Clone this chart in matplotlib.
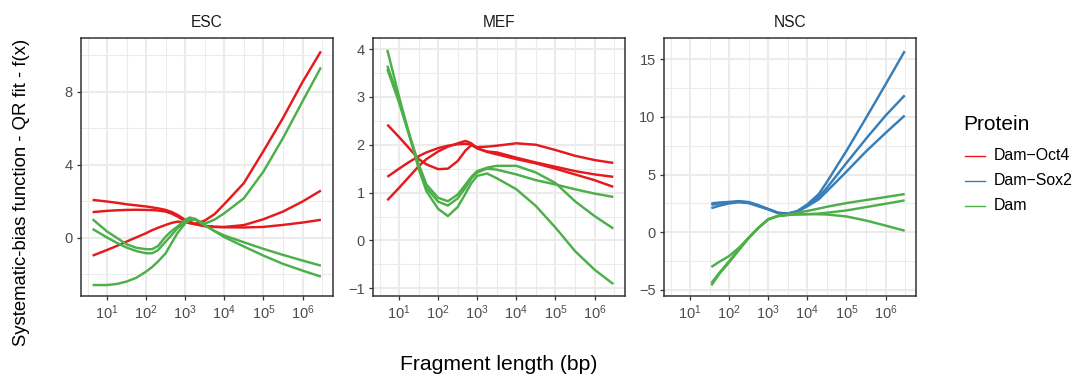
import numpy as np
import matplotlib
matplotlib.use("Agg")
import matplotlib.pyplot as plt
from matplotlib.lines import Line2D
from matplotlib.ticker import FixedLocator, NullFormatter

plt.rcParams['font.family'] = ['Liberation Sans', 'DejaVu Sans']
plt.rcParams['mathtext.fontset'] = 'custom'
plt.rcParams['mathtext.rm'] = 'Liberation Sans'
plt.rcParams['mathtext.it'] = 'Liberation Sans'

# ---------------- data (log10 fragment length, f(x)) ----------------
panels = ["ESC", "MEF", "NSC"]
proteins = ["Dam\u2212Oct4", "Dam\u2212Sox2", "Dam"]
colors = {"Dam\u2212Oct4": "#E41A1C", "Dam\u2212Sox2": "#377EB8", "Dam": "#4DAF4A"}

esc_logx = [0.63, 1.0, 1.25, 1.5, 1.75, 2.0, 2.15, 2.3, 2.5, 2.65, 2.8, 3.0, 3.12, 3.25, 3.5, 3.75, 4.0, 4.5, 5.0, 5.5, 6.0, 6.47]
esc_oct4_1 = [2.08, 1.99, 1.92, 1.84, 1.78, 1.72, 1.67, 1.62, 1.53, 1.42, 1.26, 0.99, 0.88, 0.78, 0.66, 0.61, 0.60, 0.70, 1.02, 1.44, 1.99, 2.59]
esc_oct4_2 = [1.41, 1.48, 1.51, 1.53, 1.54, 1.53, 1.52, 1.50, 1.44, 1.33, 1.17, 0.92, 0.82, 0.74, 0.64, 0.60, 0.58, 0.57, 0.60, 0.71, 0.84, 0.99]
esc_oct4_3 = [-0.97, -0.66, -0.44, -0.20, 0.03, 0.26, 0.42, 0.55, 0.71, 0.82, 0.89, 0.86, 0.80, 0.76, 0.95, 1.30, 1.85, 3.00, 4.75, 6.56, 8.53, 10.21]
esc_dam_1 = [1.02, 0.35, 0.00, -0.35, -0.54, -0.62, -0.62, -0.45, 0.07, 0.38, 0.62, 0.99, 1.12, 1.02, 0.68, 0.38, 0.13, -0.24, -0.60, -0.93, -1.24, -1.52]
esc_dam_2 = [0.49, 0.02, -0.27, -0.53, -0.72, -0.84, -0.84, -0.68, -0.20, 0.15, 0.53, 0.84, 1.05, 1.05, 0.70, 0.37, 0.04, -0.47, -0.97, -1.42, -1.79, -2.12]
esc_dam_3 = [-2.58, -2.58, -2.52, -2.39, -2.18, -1.84, -1.60, -1.30, -0.84, -0.28, 0.26, 0.80, 0.98, 1.00, 0.78, 1.00, 1.35, 2.17, 3.63, 5.46, 7.47, 9.33]

mef_logx = [0.7, 1.0, 1.2, 1.5, 1.7, 2.0, 2.25, 2.5, 2.7, 2.85, 3.0, 3.25, 3.5, 4.0, 4.5, 5.0, 5.5, 6.0, 6.48]
mef_oct4_1 = [2.42, 2.16, 1.98, 1.70, 1.59, 1.49, 1.50, 1.66, 1.88, 1.99, 1.93, 1.85, 1.80, 1.70, 1.61, 1.50, 1.38, 1.26, 1.12]
mef_oct4_2 = [1.33, 1.50, 1.61, 1.76, 1.84, 1.93, 1.98, 2.01, 2.02, 2.00, 1.95, 1.96, 1.98, 2.03, 2.00, 1.89, 1.77, 1.68, 1.62]
mef_oct4_3 = [0.84, 1.10, 1.28, 1.55, 1.70, 1.86, 1.96, 2.03, 2.08, 2.03, 1.92, 1.86, 1.84, 1.73, 1.63, 1.54, 1.45, 1.38, 1.33]
mef_dam_1 = [3.98, 3.00, 2.40, 1.50, 1.03, 0.66, 0.51, 0.70, 0.98, 1.20, 1.35, 1.40, 1.30, 1.07, 0.72, 0.27, -0.22, -0.61, -0.91]
mef_dam_2 = [3.65, 2.93, 2.38, 1.60, 1.17, 0.89, 0.82, 0.96, 1.17, 1.33, 1.45, 1.52, 1.56, 1.56, 1.42, 1.20, 0.82, 0.51, 0.25]
mef_dam_3 = [3.58, 2.88, 2.35, 1.56, 1.10, 0.81, 0.73, 0.88, 1.10, 1.30, 1.42, 1.50, 1.48, 1.38, 1.26, 1.17, 1.07, 0.98, 0.91]

nsc_logx = [1.545, 1.75, 2.0, 2.25, 2.5, 2.75, 3.0, 3.25, 3.5, 3.75, 4.0, 4.29, 4.5, 5.0, 5.5, 6.0, 6.49]
nsc_sox2_1 = [2.50, 2.58, 2.63, 2.70, 2.62, 2.35, 2.02, 1.70, 1.62, 1.85, 2.42, 3.30, 4.35, 7.05, 9.90, 12.80, 15.69]
nsc_sox2_2 = [2.38, 2.50, 2.58, 2.65, 2.58, 2.30, 2.00, 1.68, 1.60, 1.82, 2.35, 3.05, 3.85, 6.00, 8.10, 10.10, 11.86]
nsc_sox2_3 = [2.09, 2.30, 2.50, 2.60, 2.52, 2.25, 1.98, 1.66, 1.58, 1.78, 2.25, 2.85, 3.55, 5.25, 7.00, 8.60, 10.11]
nsc_dam_1 = [-3.00, -2.55, -2.06, -1.34, -0.47, 0.40, 1.13, 1.42, 1.51, 1.70, 1.85, 2.05, 2.21, 2.53, 2.79, 3.05, 3.31]
nsc_dam_2 = [-4.40, -3.50, -2.50, -1.48, -0.47, 0.40, 1.13, 1.42, 1.51, 1.55, 1.57, 1.62, 1.69, 1.89, 2.18, 2.47, 2.76]
nsc_dam_3 = [-4.60, -3.60, -2.60, -1.55, -0.50, 0.38, 1.10, 1.40, 1.50, 1.55, 1.57, 1.56, 1.54, 1.37, 1.02, 0.58, 0.14]

series = {
    "ESC": (esc_logx, [("Dam\u2212Oct4", esc_oct4_1), ("Dam\u2212Oct4", esc_oct4_2), ("Dam\u2212Oct4", esc_oct4_3),
                       ("Dam", esc_dam_1), ("Dam", esc_dam_2), ("Dam", esc_dam_3)]),
    "MEF": (mef_logx, [("Dam\u2212Oct4", mef_oct4_1), ("Dam\u2212Oct4", mef_oct4_2), ("Dam\u2212Oct4", mef_oct4_3),
                       ("Dam", mef_dam_1), ("Dam", mef_dam_2), ("Dam", mef_dam_3)]),
    "NSC": (nsc_logx, [("Dam\u2212Sox2", nsc_sox2_1), ("Dam\u2212Sox2", nsc_sox2_2), ("Dam\u2212Sox2", nsc_sox2_3),
                       ("Dam", nsc_dam_1), ("Dam", nsc_dam_2), ("Dam", nsc_dam_3)]),
}

y_major = {"ESC": [0, 4, 8], "MEF": [-1, 0, 1, 2, 3, 4], "NSC": [-5, 0, 5, 10, 15]}
y_minor = {"ESC": [-2, 2, 6, 10], "MEF": [-0.5, 0.5, 1.5, 2.5, 3.5], "NSC": [-2.5, 2.5, 7.5, 12.5]}
y_lims = {"ESC": (-3.18, 10.94), "MEF": (-1.16, 4.23), "NSC": (-5.52, 16.83)}
x_major = [1, 2, 3, 4, 5, 6]

# ---------------- figure ----------------
W, H = 1074, 374
fig = plt.figure(figsize=(W / 100, H / 100), dpi=100)
lefts = [81, 373, 664]
pw, top, bot = 252, 38, 296

grid_c = "#EBEBEB"
border_c = "#333333"
tick_c = "#4D4D4D"

for name, lp in zip(panels, lefts):
    ax = fig.add_axes([lp / W, 1 - bot / H, pw / W, (bot - top) / H])
    ax.set_xscale("log")
    xs, lines = series[name]
    xv = 10 ** np.array(xs)
    order = sorted(lines, key=lambda t: proteins.index(t[0]))
    for prot, yv in order:
        ax.plot(xv, yv, color=colors[prot], lw=1.75, solid_capstyle="butt",
                solid_joinstyle="round", zorder=3)
    ax.set_xlim(10 ** 0.333, 10 ** 6.78)
    ax.set_ylim(*y_lims[name])
    ax.xaxis.set_major_locator(FixedLocator([10 ** k for k in x_major]))
    ax.xaxis.set_minor_locator(FixedLocator([10 ** (k + 0.5) for k in range(0, 7)]))
    ax.xaxis.set_minor_formatter(NullFormatter())
    ax.set_xticklabels([r"$10^{%d}$" % k for k in x_major])
    ax.yaxis.set_major_locator(FixedLocator(y_major[name]))
    ax.yaxis.set_minor_locator(FixedLocator(y_minor[name]))
    ax.set_yticklabels([("\u2212%g" % -v) if v < 0 else "%g" % v for v in y_major[name]])
    ax.grid(which="major", color=grid_c, lw=1.5, zorder=0)
    ax.grid(which="minor", color=grid_c, lw=0.75, zorder=0)
    ax.set_axisbelow(True)
    for s in ax.spines.values():
        s.set_color(border_c)
        s.set_linewidth(1.1)
        s.set_zorder(5)
    ax.tick_params(which="major", length=3.0, width=0.9, color=border_c,
                   labelsize=10.5, labelcolor=tick_c, pad=2.5)
    ax.tick_params(which="minor", length=0)
    ax.tick_params(axis="y", pad=3.0)
    fig.text((lp + pw / 2) / W, 1 - 22.5 / H, name, ha="center", va="center",
             fontsize=11.2, color="#1A1A1A")

fig.text(499 / W, 1 - 364 / H, "Fragment length (bp)", ha="center", va="center", fontsize=15.2)
fig.text(22 / W, 1 - 192 / H, "Systematic-bias function - QR fit - f(x)", ha="center", va="center",
         rotation=90, fontsize=13.3)

# legend
fig.text(963 / W, 1 - 125 / H, "Protein", ha="left", va="center", fontsize=15)
for i, prot in enumerate(proteins):
    yy = 1 - (156 + 25 * i) / H
    fig.add_artist(Line2D([965 / W, 985 / W], [yy, yy], color=colors[prot], lw=1.0, transform=fig.transFigure))
    fig.text(994 / W, yy, prot, ha="left", va="center", fontsize=11.4)

fig.savefig("out.png", dpi=100)
